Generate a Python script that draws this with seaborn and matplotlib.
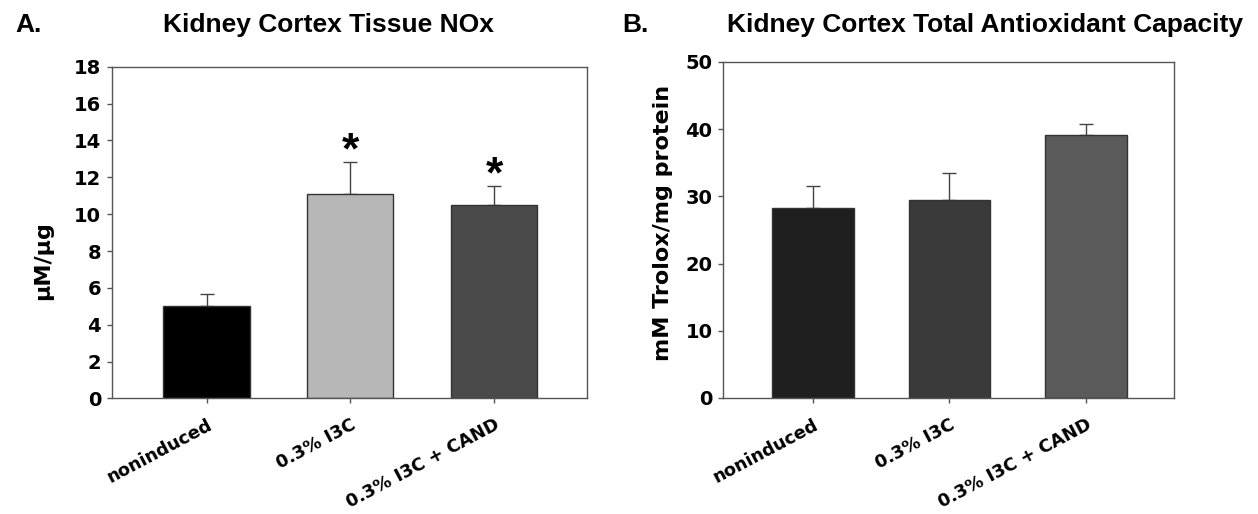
import numpy as np
import pandas as pd
import matplotlib
matplotlib.use('Agg')
import matplotlib.pyplot as plt
import seaborn as sns

# Data
groups = ['noninduced', '0.3% I3C', '0.3% I3C + CAND']
nox_mean = [5.0, 11.1, 10.5]
nox_sem = [0.65, 1.75, 1.05]
nox_sig = [False, True, True]
tac_mean = [28.3, 29.5, 39.2]
tac_sem = [3.2, 4.0, 1.6]

nox_colors = ['#000000', '#b7b7b7', '#4a4a4a']
tac_colors = ['#1f1f1f', '#3a3a3a', '#5a5a5a']

sns.set_theme(style='white')
plt.rcParams['font.family'] = ['Liberation Sans', 'DejaVu Sans']
plt.rcParams['text.color'] = 'black'
plt.rcParams['axes.labelcolor'] = 'black'

fig = plt.figure(figsize=(12.58, 5.14), dpi=100)
ax_a = fig.add_axes([0.0888, 0.225, 0.3776, 0.645])
ax_b = fig.add_axes([0.5747, 0.2257, 0.3585, 0.6537])


def draw_panel(ax, means, sems, colors, ylim, yticks, ylabel, label_xy):
    df = pd.DataFrame({'group': groups, 'value': means})
    sns.barplot(data=df, x='group', y='value', hue='group', palette=colors,
                width=0.6, edgecolor='#333333', linewidth=1.0, legend=False,
                errorbar=None, ax=ax, zorder=2)
    x = np.arange(len(groups))
    # upper half of the error bars only, as in the original
    ax.errorbar(x, means, yerr=[np.zeros(len(sems)), sems], fmt='none',
                ecolor='#444444', elinewidth=1.0, capsize=5, capthick=1.0, zorder=1)
    ax.set_ylim(*ylim)
    ax.set_xlim(-0.66, 2.645)
    ax.set_xlabel('')
    ax.set_ylabel(ylabel, fontsize=16, fontweight='bold', family='DejaVu Sans')
    ax.yaxis.set_label_coords(*label_xy)
    for s in ax.spines.values():
        s.set_color('#555555')
        s.set_linewidth(1.0)
        s.set_visible(True)
    ax.tick_params(axis='y', direction='out', length=3.6, width=1, color='#555555',
                   labelcolor='black', pad=4, left=True)
    ax.tick_params(axis='x', direction='out', length=3.6, width=1, color='#555555',
                   labelcolor='black', bottom=True, pad=9)
    ax.set_yticks(yticks)
    ax.set_yticklabels([str(t) for t in yticks], fontsize=14, fontweight='bold',
                       family='DejaVu Sans')
    ax.set_xticks(x)
    ax.set_xticklabels(groups, rotation=28, ha='right', rotation_mode='anchor',
                       fontsize=12.8, fontweight='bold', family='DejaVu Sans')


draw_panel(ax_a, nox_mean, nox_sem, nox_colors, (0, 18), list(range(0, 19, 2)),
           'µM/µg', (-0.124, 0.417))
draw_panel(ax_b, tac_mean, tac_sem, tac_colors, (0, 50), list(range(0, 51, 10)),
           'mM Trolox/mg protein', (-0.111, 0.522))

# significance stars
for i, (m, s, sig) in enumerate(zip(nox_mean, nox_sem, nox_sig)):
    if sig:
        ax_a.text(i, m + s - 0.1, '*', ha='center', va='baseline',
                  fontsize=32, fontweight='bold', family='Liberation Sans')

fig.text(0.012, 0.951, 'A.', fontsize=19, fontweight='bold', va='center')
fig.text(0.261, 0.951, 'Kidney Cortex Tissue NOx', fontsize=19,
         fontweight='bold', ha='center', va='center')
fig.text(0.495, 0.951, 'B.', fontsize=19, fontweight='bold', va='center')
fig.text(0.783, 0.951, 'Kidney Cortex Total Antioxidant Capacity', fontsize=19,
         fontweight='bold', ha='center', va='center')

fig.savefig('out.png', dpi=100, facecolor='white')
